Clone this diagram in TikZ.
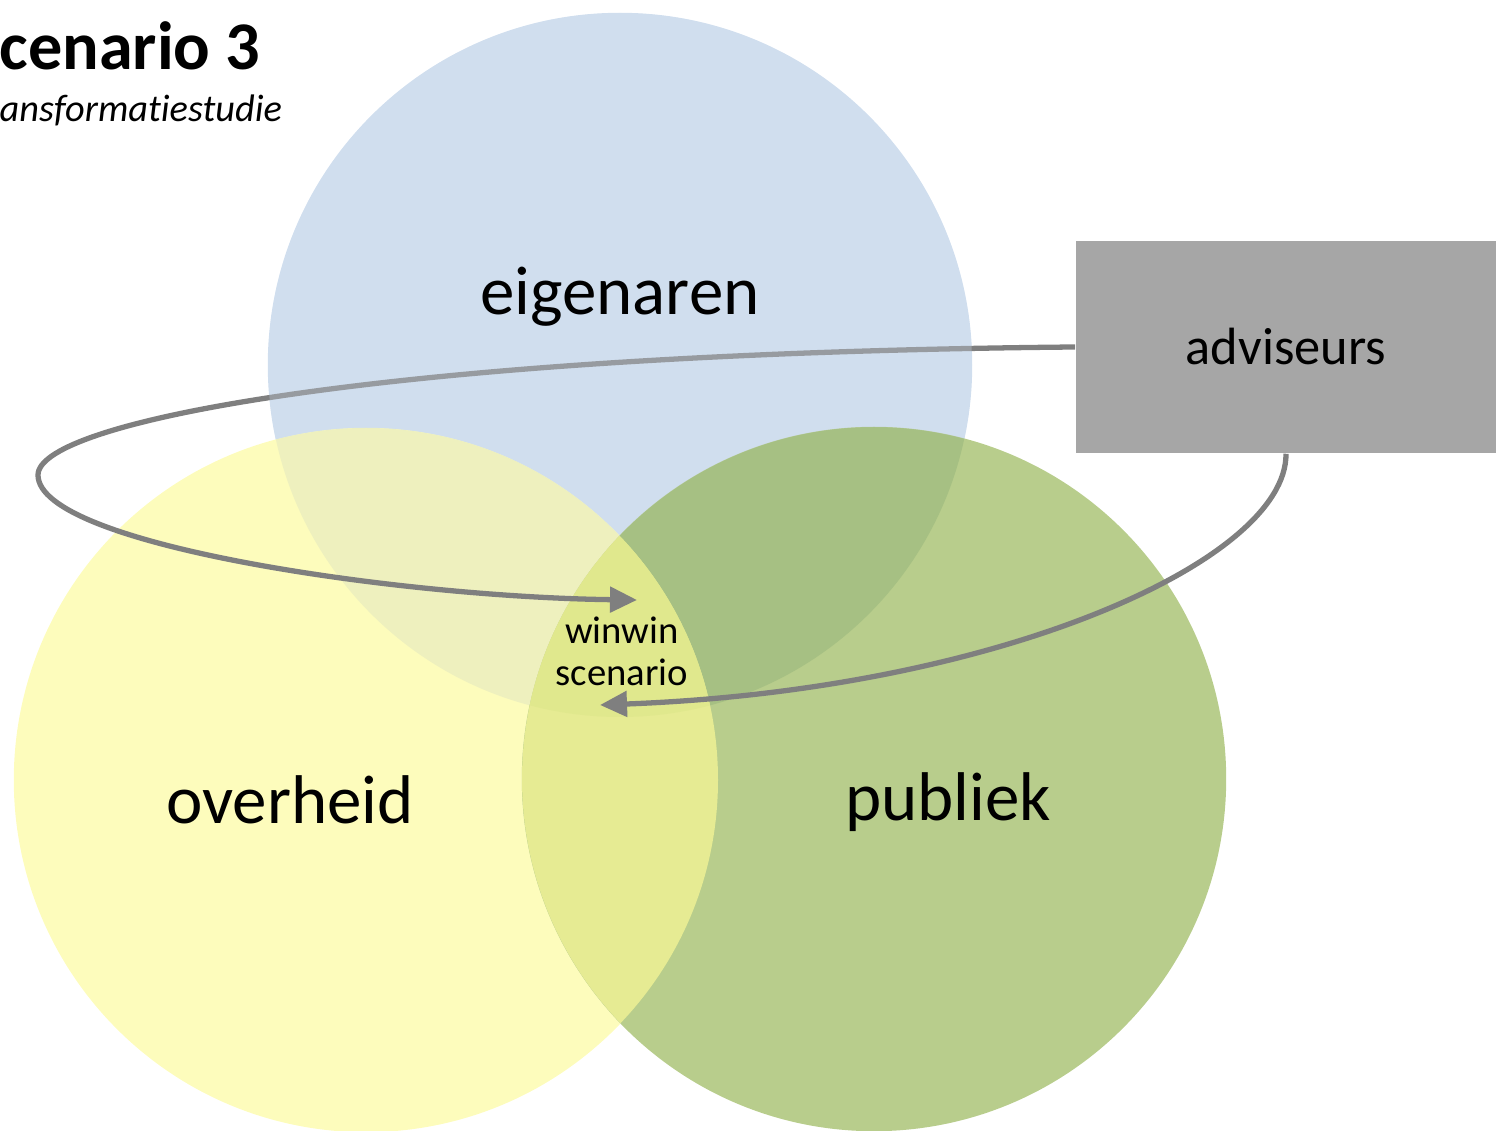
\documentclass[tikz,border=0pt]{standalone}
\usepackage{fontspec}
\setmainfont{Carlito}[Ligatures=NoCommon]
\usetikzlibrary{arrows.meta}
\definecolor{cblue}{HTML}{D0DEEE}
\definecolor{cyellow}{HTML}{FDFCBC}
\definecolor{cgreen}{HTML}{B8CD8C}
\definecolor{cyb}{HTML}{EEF0BE}
\definecolor{cgb}{HTML}{A6C083}
\definecolor{cyg}{HTML}{E6EB93}
\definecolor{cybg}{HTML}{E0E88D}
\definecolor{cline}{HTML}{7F7F7F}
\definecolor{cbox}{HTML}{A6A6A6}
\tikzset{
  venn/.style={circle, minimum size=7.04cm, inner sep=0pt, draw=none},
  biglabel/.style={font=\fontsize{19.6}{23}\selectfont, inner sep=0pt},
  flow/.style={draw=cline, line width=1.5pt, -{Triangle[length=0.27cm,width=0.25cm]}},
  advbox/.style={fill=cbox, minimum width=4.2cm, minimum height=2.12cm, inner sep=0pt, font=\fontsize{14.9}{18}\selectfont}
}
\begin{document}
\begin{tikzpicture}[x=0.01cm, y=-0.01cm]
\useasboundingbox (0,0) rectangle (1496,1131);
% circles
\node[venn, fill=cblue] (eig) at (620,365) {};
\node[venn, fill=cyellow] (ove) at (366,780) {};
\node[venn, fill=cgreen] (pub) at (874,779) {};
% overlaps
\begin{scope}
  \clip (620,365) circle [radius=352];
  \fill[cyb] (366,780) circle [radius=352];
  \fill[cgb] (874,779) circle [radius=352];
\end{scope}
\begin{scope}
  \clip (366,780) circle [radius=352];
  \fill[cyg] (874,779) circle [radius=352];
\end{scope}
\begin{scope}
  \clip (366,780) circle [radius=352];
  \clip (620,365) circle [radius=352];
  \fill[cybg] (874,779) circle [radius=352];
\end{scope}
% adviseurs box
\node[advbox] (adv) at (1286,347) {adviseurs};
\coordinate (tipA) at (637,600);
\coordinate (tipB) at (600,705);
% connectors
\draw[flow] (adv.west) .. controls (400,353) and (38,420) .. (38,475)
  .. controls (38,545) and (400,597) .. (tipA);
\draw[flow] (adv.south) .. controls (1287,560) and (1000,690) .. (tipB);
% blue-only region lies slightly over the connector
\begin{scope}[even odd rule]
  \clip (0,0) rectangle (1496,1131) (366,780) circle [radius=352];
  \clip (0,0) rectangle (1496,1131) (874,779) circle [radius=352];
  \fill[cblue, opacity=0.3] (620,365) circle [radius=352];
\end{scope}
% labels
\node[biglabel] (eiglab) at (620,297) {eigenaren};
\node[biglabel] (ovelab) at (290,800) {overheid};
\node[biglabel] (publab) at (948,802) {publiek};
% winwin
\node[align=center, inner sep=0pt, font=\fontsize{11}{12}\selectfont] (win) at (622,651) {winwin\\scenario};
% title
\node[anchor=base west, inner sep=0pt, font=\bfseries\fontsize{19.4}{23}\selectfont] (title) at (-1,70) {cenario 3};
\node[anchor=base west, inner sep=0pt, font=\itshape\fontsize{10.9}{13}\selectfont] (sub) at (-1,122) {ansformatiestudie};
\end{tikzpicture}
\end{document}
